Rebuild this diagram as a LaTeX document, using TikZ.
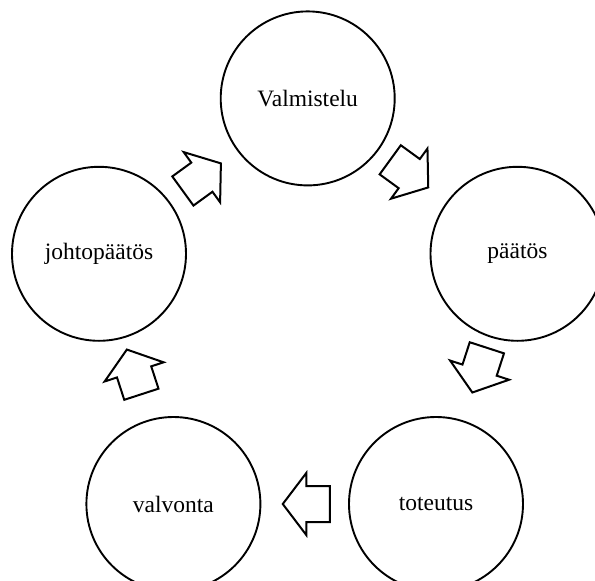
\documentclass[tikz,border=0pt]{standalone}
\usepackage{fontspec}
\setmainfont{Liberation Serif}
\usetikzlibrary{calc}

\tikzset{
  stage/.style={circle, draw=black, line width=1.9pt, minimum size=174pt,
    inner sep=0pt, font=\fontsize{23.5}{28}\selectfont},
  arrowline/.style={draw=black, fill=white, line width=2pt, line join=miter},
  blockarrow/.pic={
    \path[arrowline] (-23.5,-18) -- (0,-18) -- (0,-31) -- (23.5,0)
      -- (0,31) -- (0,18) -- (-23.5,18) -- cycle;
  }
}

\begin{document}
\begin{tikzpicture}[x=1pt, y=-1pt]
  \useasboundingbox (0,0) rectangle (595,581);

  % the five stages of the cycle
  \node[stage] (valm) at (307.7, 98.4) {Valmistelu};
  \node[stage] (paat) at (517.5,253.8) {päätös};
  \node[stage] (tot)  at (436.0,504.0) {toteutus};
  \node[stage] (valv) at (173.4,504.0) {valvonta};
  \node[stage] (joht) at ( 99.0,253.8) {johtopäätös};

  % hollow block arrows between consecutive stages
  \path ($(valm)!0.484!(paat)$) pic[rotate=-36]  {blockarrow};
  \path ($(paat)!0.465!(tot)$)  pic[rotate=-108] {blockarrow};
  \path ($(tot)!0.494!(valv)$)  pic[rotate=180]  {blockarrow};
  \path ($(valv)!0.528!(joht)$) pic[rotate=108]  {blockarrow};
  \path ($(joht)!0.493!(valm)$) pic[rotate=36]   {blockarrow};
\end{tikzpicture}
\end{document}
